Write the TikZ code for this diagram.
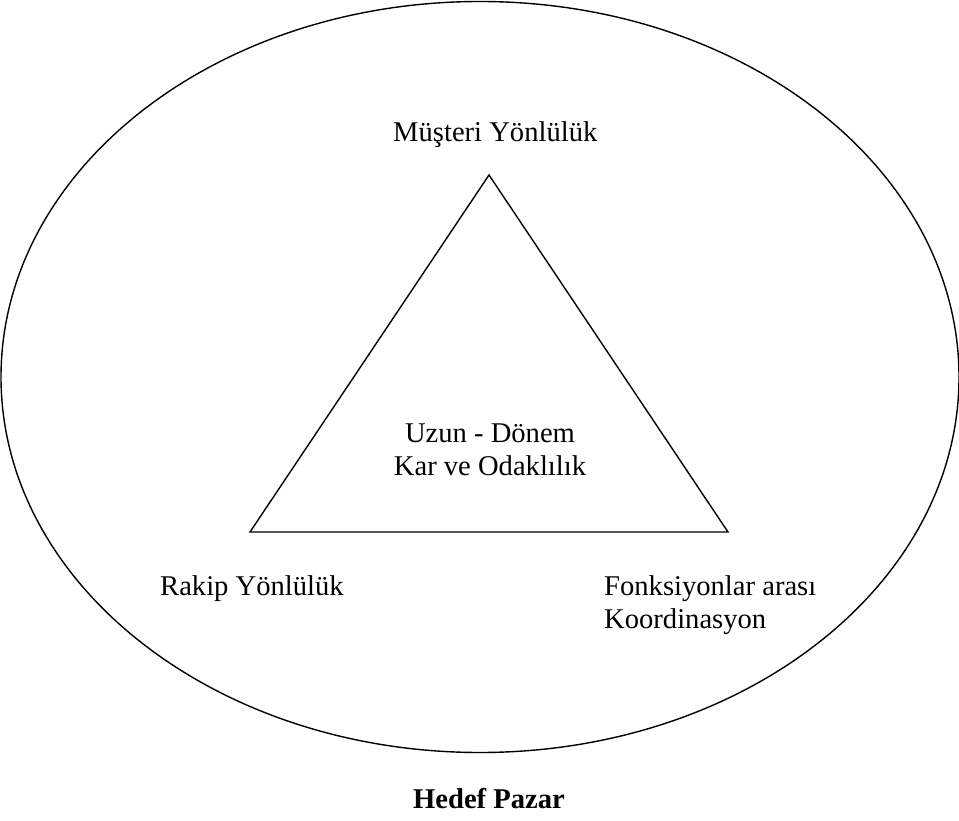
\documentclass[tikz,border=0pt]{standalone}
\usepackage{fontspec}
\setmainfont{Liberation Serif}
\tikzset{
  outline/.style={draw=black, line width=1.4pt},
  label/.style={inner sep=0pt, anchor=base west, font=\fontsize{28.6}{33}\selectfont},
  midlabel/.style={label, anchor=base},
  gap/.style={fill=white, draw=none},
}
\begin{document}
\begin{tikzpicture}[x=1pt,y=-1pt]
\useasboundingbox (0,0) rectangle (959,821);
% market ellipse
\coordinate (mid) at (480,377);
\draw[outline] (mid) ellipse [x radius=479, y radius=375.5];
% small breaks left in the ellipse by the text frames
\fill[gap] (153,622) rectangle (161,627);
\fill[gap] (775,625) rectangle (783,630);
\fill[gap] (898,521) rectangle (905,527);
% orientation triangle
\coordinate (apex) at (489,175);
\coordinate (left) at (250,532);
\coordinate (right) at (728,532);
\draw[outline, line join=miter] (apex) -- (left) -- (right) -- cycle;
% labels
\node[label] (cust) at (393,142) {Müşteri Yönlülük};
\node[midlabel] (core1) at (490,442) {Uzun - Dönem};
\node[midlabel] (core2) at (490,475) {Kar ve Odaklılık};
\node[label] (comp) at (160,595) {Rakip Yönlülük};
\node[label] (coord1) at (604,595) {Fonksiyonlar arası};
\node[label] (coord2) at (604,628) {Koordinasyon};
\node[midlabel, font=\fontsize{28.6}{33}\selectfont\bfseries] (target) at (489,808) {Hedef Pazar};
\end{tikzpicture}
\end{document}
